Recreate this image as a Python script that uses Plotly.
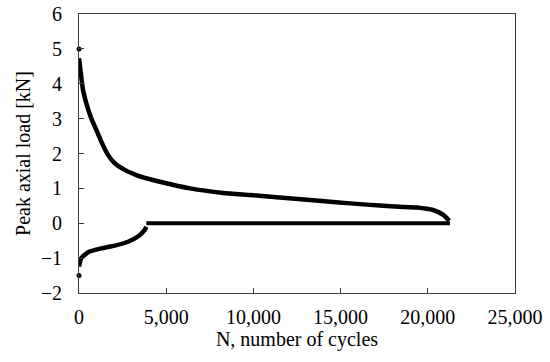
import plotly.graph_objects as go

# Upper branch (tension peak load)
upper_N = [0, 130, 230, 420, 710, 1000, 1280, 1660, 2050, 2620, 3290, 3860,
           4640, 6360, 8270, 9800, 11500, 13600, 15540, 17450, 19360, 20300, 20890, 21230]
upper_V = [4.73, 4.20, 3.82, 3.44, 3.00, 2.67, 2.34, 1.96, 1.72, 1.53, 1.38, 1.29,
           1.19, 1.00, 0.87, 0.81, 0.74, 0.65, 0.57, 0.50, 0.45, 0.38, 0.24, 0.07]

# Lower branch (compression peak load)
lower_N = [0, 130, 520, 1280, 2050, 2810, 3380, 3770, 3860]
lower_V = [-1.24, -1.00, -0.83, -0.72, -0.64, -0.53, -0.38, -0.19, -0.10]

# Zero-load plateau after compression is lost
zero_N = [3860, 21270]
zero_V = [0.0, 0.0]

# Isolated first-cycle points
first_N = [0, 0]
first_V = [5.0, -1.5]

x_ticks = [0, 5000, 10000, 15000, 20000, 25000]
x_labels = ["0", "5,000", "10,000", "15,000", "20,000", "25,000"]
y_ticks = [-2, -1, 0, 1, 2, 3, 4, 5, 6]

FONT = "Liberation Serif"
FS = 20
line_style = dict(color="black", width=4.5, shape="spline", smoothing=0.5)

fig = go.Figure()
fig.add_trace(go.Scatter(x=upper_N, y=upper_V, mode="lines", line=line_style, showlegend=False))
fig.add_trace(go.Scatter(x=lower_N, y=lower_V, mode="lines", line=line_style, showlegend=False))
fig.add_trace(go.Scatter(x=zero_N, y=zero_V, mode="lines",
                         line=dict(color="black", width=4), showlegend=False))
fig.add_trace(go.Scatter(x=first_N, y=first_V, mode="markers",
                         marker=dict(color="black", size=5), showlegend=False,
                         cliponaxis=False))

axis_common = dict(
    showline=True, linecolor="#3a3a3a", linewidth=1, mirror=True,
    ticks="inside", ticklen=5, tickcolor="#3a3a3a", tickwidth=1,
    showgrid=False, zeroline=False, automargin=False,
    tickfont=dict(family=FONT, size=FS, color="black"),
)

fig.update_layout(
    width=550, height=362,
    margin=dict(l=79, r=35, t=14, b=69),
    paper_bgcolor="white", plot_bgcolor="white",
    font=dict(family=FONT, size=FS, color="black"),
    xaxis=dict(range=[0, 25000], tickvals=x_ticks, ticktext=x_labels,
               title=dict(text="N, number of cycles", font=dict(family=FONT, size=FS), standoff=0),
               ticklabelstandoff=6, **axis_common),
    yaxis=dict(range=[-2, 6], tickvals=y_ticks,
               title=dict(text="Peak axial load [kN]", font=dict(family=FONT, size=FS), standoff=4),
               ticklabelstandoff=12, **axis_common),
)

fig.write_html("out.html",
               config={"displayModeBar": False},
               post_script="document.body.style.margin='0';document.body.style.overflow='hidden';")
